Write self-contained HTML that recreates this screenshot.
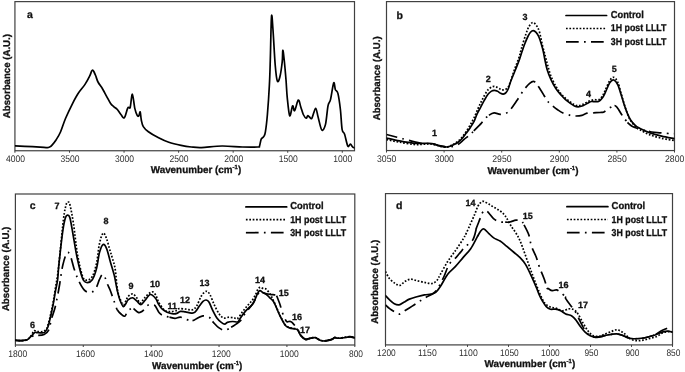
<!DOCTYPE html>
<html><head><meta charset="utf-8"><title>FTIR spectra</title>
<style>
html,body{margin:0;padding:0;background:#fff;width:685px;height:372px;overflow:hidden;}
svg{display:block;font-family:"Liberation Sans",sans-serif;will-change:transform;}
</style></head>
<body>
<svg width="685" height="372" viewBox="0 0 685 372" font-family="Liberation Sans, sans-serif" text-rendering="geometricPrecision">
<clipPath id="ca"><rect x="14.93" y="0.62" width="339.57" height="150.13"/></clipPath>
<rect x="14.93" y="1.62" width="339.57" height="149.13" fill="none" stroke="#404040" stroke-width="1.2"/>
<line x1="14.93" y1="150.75" x2="14.93" y2="152.75" stroke="#404040" stroke-width="1"/>
<text x="15.43" y="161.70" font-size="9.60" text-anchor="middle" textLength="19.00" lengthAdjust="spacingAndGlyphs" fill="#303030">4000</text>
<line x1="69.49" y1="150.75" x2="69.49" y2="152.75" stroke="#404040" stroke-width="1"/>
<text x="69.99" y="161.70" font-size="9.60" text-anchor="middle" textLength="19.00" lengthAdjust="spacingAndGlyphs" fill="#303030">3500</text>
<line x1="124.05" y1="150.75" x2="124.05" y2="152.75" stroke="#404040" stroke-width="1"/>
<text x="124.55" y="161.70" font-size="9.60" text-anchor="middle" textLength="19.00" lengthAdjust="spacingAndGlyphs" fill="#303030">3000</text>
<line x1="178.61" y1="150.75" x2="178.61" y2="152.75" stroke="#404040" stroke-width="1"/>
<text x="179.11" y="161.70" font-size="9.60" text-anchor="middle" textLength="19.00" lengthAdjust="spacingAndGlyphs" fill="#303030">2500</text>
<line x1="233.17" y1="150.75" x2="233.17" y2="152.75" stroke="#404040" stroke-width="1"/>
<text x="233.67" y="161.70" font-size="9.60" text-anchor="middle" textLength="19.00" lengthAdjust="spacingAndGlyphs" fill="#303030">2000</text>
<line x1="287.73" y1="150.75" x2="287.73" y2="152.75" stroke="#404040" stroke-width="1"/>
<text x="288.23" y="161.70" font-size="9.60" text-anchor="middle" textLength="19.00" lengthAdjust="spacingAndGlyphs" fill="#303030">1500</text>
<line x1="342.29" y1="150.75" x2="342.29" y2="152.75" stroke="#404040" stroke-width="1"/>
<text x="342.79" y="161.70" font-size="9.60" text-anchor="middle" textLength="19.00" lengthAdjust="spacingAndGlyphs" fill="#303030">1000</text>
<text x="150.70" y="172.80" font-size="10" font-weight="bold" fill="#111" stroke="#111" stroke-width="0.3" textLength="90.50" lengthAdjust="spacingAndGlyphs">Wavenumber (cm<tspan font-size="6" dy="-3.5">-1</tspan><tspan dy="3.5">)</tspan></text>
<text x="9.90" y="118.20" font-size="9.80" font-weight="bold" textLength="84.20" lengthAdjust="spacingAndGlyphs" transform="rotate(-90 9.90 118.20)" fill="#111" stroke="#111" stroke-width="0.3">Absorbance (A.U.)</text>
<text x="27.00" y="18.30" font-size="10.50" font-weight="bold" fill="#111" stroke="#111" stroke-width="0.3">a</text>
<path d="M15.10,145.80 C18.00,145.95 27.68,146.43 32.50,146.70 C37.32,146.97 41.52,147.25 44.00,147.40 C46.48,147.55 46.47,147.68 47.40,147.60 C48.33,147.52 48.87,147.27 49.60,146.90 C50.33,146.53 50.70,146.60 51.80,145.40 C52.90,144.20 54.75,141.93 56.20,139.70 C57.65,137.47 58.95,135.53 60.50,132.00 C62.05,128.47 63.52,123.20 65.50,118.50 C67.48,113.80 70.30,107.97 72.40,103.80 C74.50,99.63 76.00,96.73 78.10,93.50 C80.20,90.27 83.10,87.25 85.00,84.40 C86.90,81.55 88.40,78.60 89.50,76.40 C90.60,74.20 91.08,72.27 91.60,71.20 C92.12,70.13 92.23,69.95 92.60,70.00 C92.97,70.05 93.28,70.53 93.80,71.50 C94.32,72.47 95.00,74.05 95.70,75.80 C96.40,77.55 96.85,79.80 98.00,82.00 C99.15,84.20 101.17,86.62 102.60,89.00 C104.03,91.38 105.27,93.88 106.60,96.30 C107.93,98.72 109.38,101.75 110.60,103.50 C111.82,105.25 112.82,105.85 113.90,106.80 C114.98,107.75 115.90,107.87 117.10,109.20 C118.30,110.53 119.88,113.38 121.10,114.80 C122.32,116.22 123.32,118.77 124.40,117.70 C125.48,116.63 126.80,110.08 127.60,108.40 C128.40,106.72 128.75,107.83 129.20,107.60 C129.65,107.37 129.77,109.23 130.30,107.00 C130.83,104.77 131.65,93.97 132.40,94.20 C133.15,94.43 133.98,104.83 134.80,108.40 C135.62,111.97 136.62,114.40 137.30,115.60 C137.98,116.80 138.42,116.22 138.90,115.60 C139.38,114.98 139.80,111.17 140.20,111.90 C140.60,112.63 140.78,117.55 141.30,120.00 C141.82,122.45 142.12,124.65 143.30,126.60 C144.48,128.55 145.85,129.83 148.40,131.70 C150.95,133.57 155.20,136.03 158.60,137.80 C162.00,139.57 165.05,141.03 168.80,142.30 C172.55,143.57 177.35,144.62 181.10,145.40 C184.85,146.18 187.90,146.63 191.30,147.00 C194.70,147.37 196.38,147.77 201.50,147.60 C206.62,147.43 215.18,146.10 222.00,146.00 C228.82,145.90 236.45,146.83 242.40,147.00 C248.35,147.17 254.85,147.15 257.70,147.00 C260.55,146.85 258.92,147.40 259.50,146.10 C260.08,144.80 260.50,140.77 261.20,139.20 C261.90,137.63 263.00,137.93 263.70,136.70 C264.40,135.47 264.78,135.50 265.40,131.80 C266.02,128.10 266.73,122.33 267.40,114.50 C268.07,106.67 268.92,93.88 269.40,84.80 C269.88,75.72 269.95,71.38 270.30,60.00 C270.65,48.62 271.05,21.50 271.50,16.50 C271.95,11.50 272.38,21.92 273.00,30.00 C273.62,38.08 274.48,56.50 275.20,65.00 C275.92,73.50 276.53,78.95 277.30,81.00 C278.07,83.05 278.98,80.47 279.80,77.30 C280.62,74.13 281.70,66.48 282.20,62.00 C282.70,57.52 282.50,51.07 282.80,50.40 C283.10,49.73 283.47,53.10 284.00,58.00 C284.53,62.90 285.47,73.28 286.00,79.80 C286.53,86.32 286.58,91.12 287.20,97.10 C287.82,103.08 288.80,114.25 289.70,115.70 C290.60,117.15 291.78,106.63 292.60,105.80 C293.42,104.97 293.65,111.65 294.60,110.70 C295.55,109.75 297.27,100.72 298.30,100.10 C299.33,99.48 299.97,104.60 300.80,107.00 C301.63,109.40 302.40,112.63 303.30,114.50 C304.20,116.37 305.47,118.00 306.20,118.20 C306.93,118.40 307.15,115.90 307.70,115.70 C308.25,115.50 308.80,116.58 309.50,117.00 C310.20,117.42 310.88,119.65 311.90,118.20 C312.92,116.75 314.57,108.50 315.60,108.30 C316.63,108.10 317.07,113.38 318.10,117.00 C319.13,120.62 320.57,128.77 321.80,130.00 C323.03,131.23 324.47,128.43 325.50,124.40 C326.53,120.37 327.17,109.93 328.00,105.80 C328.83,101.67 329.55,103.40 330.50,99.60 C331.45,95.80 332.88,84.65 333.70,83.00 C334.52,81.35 334.70,87.97 335.40,89.70 C336.10,91.43 337.07,90.10 337.90,93.40 C338.73,96.70 339.70,103.52 340.40,109.50 C341.10,115.48 341.40,125.17 342.10,129.30 C342.80,133.43 343.65,131.50 344.60,134.30 C345.55,137.10 346.85,144.45 347.80,146.10 C348.75,147.75 349.47,144.03 350.30,144.20 C351.13,144.37 352.10,146.48 352.80,147.10 C353.50,147.72 354.22,147.77 354.50,147.90" stroke="#000" stroke-width="1.70" fill="none" stroke-linejoin="round" stroke-linecap="round" clip-path="url(#ca)"/>
<clipPath id="cb"><rect x="386.50" y="0.60" width="288.00" height="149.95"/></clipPath>
<rect x="386.50" y="1.60" width="288.00" height="148.95" fill="none" stroke="#404040" stroke-width="1.2"/>
<line x1="386.50" y1="150.55" x2="386.50" y2="152.55" stroke="#404040" stroke-width="1"/>
<text x="386.70" y="161.70" font-size="9.60" text-anchor="middle" textLength="19.30" lengthAdjust="spacingAndGlyphs" fill="#303030">3050</text>
<line x1="444.10" y1="150.55" x2="444.10" y2="152.55" stroke="#404040" stroke-width="1"/>
<text x="444.30" y="161.70" font-size="9.60" text-anchor="middle" textLength="19.30" lengthAdjust="spacingAndGlyphs" fill="#303030">3000</text>
<line x1="501.70" y1="150.55" x2="501.70" y2="152.55" stroke="#404040" stroke-width="1"/>
<text x="501.90" y="161.70" font-size="9.60" text-anchor="middle" textLength="19.30" lengthAdjust="spacingAndGlyphs" fill="#303030">2950</text>
<line x1="559.30" y1="150.55" x2="559.30" y2="152.55" stroke="#404040" stroke-width="1"/>
<text x="559.50" y="161.70" font-size="9.60" text-anchor="middle" textLength="19.30" lengthAdjust="spacingAndGlyphs" fill="#303030">2900</text>
<line x1="616.90" y1="150.55" x2="616.90" y2="152.55" stroke="#404040" stroke-width="1"/>
<text x="617.10" y="161.70" font-size="9.60" text-anchor="middle" textLength="19.30" lengthAdjust="spacingAndGlyphs" fill="#303030">2850</text>
<line x1="674.50" y1="150.55" x2="674.50" y2="152.55" stroke="#404040" stroke-width="1"/>
<text x="674.70" y="161.70" font-size="9.60" text-anchor="middle" textLength="19.30" lengthAdjust="spacingAndGlyphs" fill="#303030">2800</text>
<text x="487.50" y="173.90" font-size="10" font-weight="bold" fill="#111" stroke="#111" stroke-width="0.3" textLength="91.00" lengthAdjust="spacingAndGlyphs">Wavenumber (cm<tspan font-size="6" dy="-3.5">-1</tspan><tspan dy="3.5">)</tspan></text>
<text x="380.40" y="120.30" font-size="9.80" font-weight="bold" textLength="83.90" lengthAdjust="spacingAndGlyphs" transform="rotate(-90 380.40 120.30)" fill="#111" stroke="#111" stroke-width="0.3">Absorbance (A.U.)</text>
<text x="396.60" y="18.60" font-size="10.50" font-weight="bold" fill="#111" stroke="#111" stroke-width="0.3">b</text>
<line x1="566.00" y1="15.50" x2="606.60" y2="15.50" stroke="#000" stroke-width="1.70" fill="none" stroke-linejoin="round" stroke-linecap="round"/>
<text x="610.80" y="18.20" font-size="10.00" font-weight="bold" textLength="33.00" lengthAdjust="spacingAndGlyphs" fill="#111" stroke="#111" stroke-width="0.3">Control</text>
<line x1="566.00" y1="28.50" x2="606.60" y2="28.50" stroke="#000" stroke-width="1.70" fill="none" stroke-dasharray="1.7 1.7"/>
<text x="610.80" y="31.40" font-size="10.00" font-weight="bold" textLength="55.70" lengthAdjust="spacingAndGlyphs" fill="#111" stroke="#111" stroke-width="0.3">1H post LLLT</text>
<line x1="566.00" y1="41.90" x2="606.60" y2="41.90" stroke="#000" stroke-width="1.70" fill="none" stroke-dasharray="12.7 5.3 1.7 5.3"/>
<text x="610.80" y="44.60" font-size="10.00" font-weight="bold" textLength="55.70" lengthAdjust="spacingAndGlyphs" fill="#111" stroke="#111" stroke-width="0.3">3H post LLLT</text>
<path d="M386.50,139.60 C388.68,140.03 394.98,141.38 399.60,142.20 C404.22,143.02 410.30,144.15 414.20,144.50 C418.10,144.85 420.57,144.42 423.00,144.30 C425.43,144.18 426.87,143.75 428.80,143.80 C430.73,143.85 432.65,144.17 434.60,144.60 C436.55,145.03 438.52,145.98 440.50,146.40 C442.48,146.82 444.92,147.17 446.50,147.10 C448.08,147.03 448.75,146.52 450.00,146.00 C451.25,145.48 452.65,144.80 454.00,144.00 C455.35,143.20 456.75,142.33 458.10,141.20 C459.45,140.07 460.77,138.80 462.10,137.20 C463.43,135.60 464.75,133.63 466.10,131.60 C467.45,129.57 468.85,127.35 470.20,125.00 C471.55,122.65 472.93,120.17 474.20,117.50 C475.47,114.83 476.67,111.55 477.80,109.00 C478.93,106.45 479.90,104.45 481.00,102.20 C482.10,99.95 483.20,97.60 484.40,95.50 C485.60,93.40 486.78,91.08 488.20,89.60 C489.62,88.12 491.50,87.02 492.90,86.60 C494.30,86.18 495.42,86.70 496.60,87.10 C497.78,87.50 499.05,88.53 500.00,89.00 C500.95,89.47 501.47,89.82 502.30,89.90 C503.13,89.98 504.22,89.77 505.00,89.50 C505.78,89.23 506.28,89.08 507.00,88.30 C507.72,87.52 508.02,88.02 509.30,84.80 C510.58,81.58 513.08,73.55 514.70,69.00 C516.32,64.45 517.87,60.95 519.00,57.50 C520.13,54.05 520.37,52.15 521.50,48.30 C522.63,44.45 524.55,38.03 525.80,34.40 C527.05,30.77 527.85,28.48 529.00,26.50 C530.15,24.52 531.53,22.75 532.70,22.50 C533.87,22.25 534.92,23.57 536.00,25.00 C537.08,26.43 538.13,27.73 539.20,31.10 C540.27,34.47 541.35,40.88 542.40,45.20 C543.45,49.52 544.57,53.45 545.50,57.00 C546.43,60.55 547.07,63.25 548.00,66.50 C548.93,69.75 549.77,73.17 551.10,76.50 C552.43,79.83 554.12,83.37 556.00,86.50 C557.88,89.63 560.12,92.78 562.40,95.30 C564.68,97.82 567.70,100.05 569.70,101.60 C571.70,103.15 572.98,103.93 574.40,104.60 C575.82,105.27 576.78,105.63 578.20,105.60 C579.62,105.57 581.33,105.03 582.90,104.40 C584.47,103.77 585.88,102.57 587.60,101.80 C589.32,101.03 591.32,100.17 593.20,99.80 C595.08,99.43 597.38,100.18 598.90,99.60 C600.42,99.02 601.28,97.77 602.30,96.30 C603.32,94.83 603.77,93.42 605.00,90.80 C606.23,88.18 608.25,82.85 609.70,80.60 C611.15,78.35 612.37,77.07 613.70,77.30 C615.03,77.53 616.48,79.38 617.70,82.00 C618.92,84.62 619.92,89.33 621.00,93.00 C622.08,96.67 623.13,100.57 624.20,104.00 C625.27,107.43 626.33,110.83 627.40,113.60 C628.47,116.37 629.25,118.43 630.60,120.60 C631.95,122.77 633.93,125.07 635.50,126.60 C637.07,128.13 637.68,128.47 640.00,129.80 C642.32,131.13 645.78,133.18 649.40,134.60 C653.02,136.02 657.58,137.32 661.70,138.30 C665.82,139.28 672.03,140.13 674.10,140.50" stroke="#000" stroke-width="1.70" fill="none" stroke-dasharray="1.7 1.7" clip-path="url(#cb)"/>
<path d="M386.50,134.50 C389.17,135.20 396.92,137.27 402.50,138.70 C408.08,140.13 415.42,142.25 420.00,143.10 C424.58,143.95 426.58,143.35 430.00,143.80 C433.42,144.25 437.78,145.27 440.50,145.80 C443.22,146.33 444.38,146.87 446.30,147.00 C448.22,147.13 450.05,147.02 452.00,146.60 C453.95,146.18 455.98,145.70 458.00,144.50 C460.02,143.30 462.13,141.00 464.10,139.40 C466.07,137.80 468.18,136.32 469.80,134.90 C471.42,133.48 472.43,132.28 473.80,130.90" stroke="#000" stroke-width="1.70" fill="none" stroke-dasharray="12.7 5.3 1.7 5.3" clip-path="url(#cb)" stroke-dashoffset="1.70"/>
<path d="M473.80,130.90 C475.17,129.52 476.77,127.85 478.00,126.60 C479.23,125.35 480.12,124.63 481.20,123.40 C482.28,122.17 483.22,120.55 484.50,119.20 C485.78,117.85 487.30,116.35 488.90,115.30" stroke="#000" stroke-width="1.70" fill="none" stroke-dasharray="12.7 5.3 1.7 5.3" clip-path="url(#cb)"/>
<path d="M488.90,115.30 C490.50,114.25 492.22,113.07 494.10,112.90 C495.98,112.73 498.25,114.23 500.20,114.30 C502.15,114.37 504.12,114.07 505.80,113.30 C507.48,112.53 508.48,111.78 510.30,109.70 C512.12,107.62 514.45,104.08 516.70,100.80 C518.95,97.52 521.63,92.92 523.80,90.00 C525.97,87.08 528.00,84.72 529.70,83.30 C531.40,81.88 532.58,81.00 534.00,81.50 C535.42,82.00 536.55,84.02 538.20,86.30" stroke="#000" stroke-width="1.70" fill="none" stroke-dasharray="12.7 5.3 1.7 5.3" clip-path="url(#cb)"/>
<path d="M538.20,86.30 C539.85,88.58 542.50,92.92 543.90,95.20 C545.30,97.48 545.53,98.53 546.60,100.00 C547.67,101.47 548.47,102.38 550.30,104.00 C552.13,105.62 555.48,108.20 557.60,109.70 C559.72,111.20 560.83,112.05 563.00,113.00 C565.17,113.95 568.43,114.90 570.60,115.40 C572.77,115.90 574.12,116.00 576.00,116.00 C577.88,116.00 580.05,115.87 581.90,115.40 C583.75,114.93 585.22,113.63 587.10,113.20 C588.98,112.77 591.05,112.92 593.20,112.80" stroke="#000" stroke-width="1.70" fill="none" stroke-dasharray="12.7 5.3 1.7 5.3" clip-path="url(#cb)"/>
<path d="M593.20,112.80 C595.35,112.68 598.20,112.65 600.00,112.50 C601.80,112.35 602.38,112.67 604.00,111.90 C605.62,111.13 607.95,108.97 609.70,107.90 C611.45,106.83 613.20,105.48 614.50,105.50" stroke="#000" stroke-width="1.70" fill="none" stroke-dasharray="12.7 5.3 1.7 5.3" clip-path="url(#cb)"/>
<path d="M614.50,105.50 C615.80,105.52 616.42,106.67 617.50,108.00 C618.58,109.33 619.88,111.77 621.00,113.50 C622.12,115.23 623.10,116.92 624.20,118.40 C625.30,119.88 626.93,121.60 627.60,122.40" stroke="#000" stroke-width="1.70" fill="none" stroke-dasharray="12.7 5.3 1.7 5.3" clip-path="url(#cb)"/>
<path d="M627.60,122.40 C628.27,123.20 627.47,122.55 628.20,123.20 C628.93,123.85 630.52,125.45 632.00,126.30 C633.48,127.15 634.28,127.45 637.10,128.30 C639.92,129.15 646.45,130.78 648.90,131.40" stroke="#000" stroke-width="1.70" fill="none" stroke-dasharray="12.7 5.3 1.7 5.3" clip-path="url(#cb)"/>
<path d="M648.90,131.40 C651.35,132.02 648.83,131.67 651.80,132.00 C654.77,132.33 662.98,133.13 666.70,133.40 C670.42,133.67 672.87,133.57 674.10,133.60" stroke="#000" stroke-width="1.70" fill="none" stroke-dasharray="12.7 5.3 1.7 5.3" clip-path="url(#cb)"/>
<path d="M386.50,138.00 C388.68,138.48 394.98,140.02 399.60,140.90 C404.22,141.78 410.30,142.90 414.20,143.30 C418.10,143.70 420.57,143.30 423.00,143.30 C425.43,143.30 426.87,143.15 428.80,143.30 C430.73,143.45 432.65,143.72 434.60,144.20 C436.55,144.68 438.52,145.73 440.50,146.20 C442.48,146.67 444.92,147.00 446.50,147.00 C448.08,147.00 448.75,146.60 450.00,146.20 C451.25,145.80 452.65,145.27 454.00,144.60 C455.35,143.93 456.75,143.22 458.10,142.20 C459.45,141.18 460.77,139.98 462.10,138.50 C463.43,137.02 464.75,135.10 466.10,133.30 C467.45,131.50 468.85,129.72 470.20,127.70 C471.55,125.68 473.08,123.43 474.20,121.20 C475.32,118.97 475.83,116.62 476.90,114.30 C477.97,111.98 479.35,109.65 480.60,107.30 C481.85,104.95 483.13,102.40 484.40,100.20 C485.67,98.00 487.02,95.62 488.20,94.10 C489.38,92.58 490.48,91.73 491.50,91.10 C492.52,90.47 493.28,90.27 494.30,90.30 C495.32,90.33 496.58,90.82 497.60,91.30 C498.62,91.78 499.47,92.73 500.40,93.20 C501.33,93.67 502.27,94.18 503.20,94.10 C504.13,94.02 505.13,93.63 506.00,92.70 C506.87,91.77 507.67,90.23 508.40,88.50 C509.13,86.77 509.35,85.13 510.40,82.30 C511.45,79.47 513.27,75.08 514.70,71.50 C516.13,67.92 517.78,64.12 519.00,60.80 C520.22,57.48 521.05,54.40 522.00,51.60 C522.95,48.80 523.72,46.52 524.70,44.00 C525.68,41.48 526.93,38.47 527.90,36.50 C528.87,34.53 529.60,33.18 530.50,32.20 C531.40,31.22 532.37,30.57 533.30,30.60 C534.23,30.63 535.20,31.42 536.10,32.40 C537.00,33.38 537.83,34.57 538.70,36.50 C539.57,38.43 540.53,41.50 541.30,44.00 C542.07,46.50 542.70,48.88 543.30,51.50 C543.90,54.12 544.27,56.72 544.90,59.70 C545.53,62.68 546.07,66.05 547.10,69.40 C548.13,72.75 549.62,76.58 551.10,79.80 C552.58,83.02 554.27,86.08 556.00,88.70 C557.73,91.32 559.92,93.68 561.50,95.50 C563.08,97.32 564.13,98.37 565.50,99.60 C566.87,100.83 568.22,101.85 569.70,102.90 C571.18,103.95 572.98,105.25 574.40,105.90 C575.82,106.55 576.78,106.83 578.20,106.80 C579.62,106.77 581.33,106.28 582.90,105.70 C584.47,105.12 586.20,104.00 587.60,103.30 C589.00,102.60 590.05,101.77 591.30,101.50 C592.55,101.23 593.83,101.73 595.10,101.70 C596.37,101.67 597.70,101.92 598.90,101.30 C600.10,100.68 601.28,99.35 602.30,98.00 C603.32,96.65 603.77,95.72 605.00,93.20 C606.23,90.68 608.25,85.10 609.70,82.90 C611.15,80.70 612.37,79.73 613.70,80.00 C615.03,80.27 616.48,82.13 617.70,84.50 C618.92,86.87 619.92,90.83 621.00,94.20 C622.08,97.57 623.13,101.48 624.20,104.70 C625.27,107.92 626.33,110.95 627.40,113.50 C628.47,116.05 629.25,117.98 630.60,120.00 C631.95,122.02 633.93,124.20 635.50,125.60 C637.07,127.00 637.68,127.23 640.00,128.40 C642.32,129.57 645.78,131.32 649.40,132.60 C653.02,133.88 657.58,135.10 661.70,136.10 C665.82,137.10 672.03,138.18 674.10,138.60" stroke="#000" stroke-width="1.70" fill="none" stroke-linejoin="round" stroke-linecap="round" clip-path="url(#cb)"/>
<text x="432.00" y="135.60" font-size="9.00" font-weight="bold" fill="#111" stroke="#111" stroke-width="0.3">1</text>
<text x="485.80" y="81.80" font-size="9.00" font-weight="bold" fill="#111" stroke="#111" stroke-width="0.3">2</text>
<text x="522.60" y="19.50" font-size="9.00" font-weight="bold" fill="#111" stroke="#111" stroke-width="0.3">3</text>
<text x="585.90" y="96.50" font-size="9.00" font-weight="bold" fill="#111" stroke="#111" stroke-width="0.3">4</text>
<text x="611.80" y="71.80" font-size="9.00" font-weight="bold" fill="#111" stroke="#111" stroke-width="0.3">5</text>
<clipPath id="cc"><rect x="15.40" y="193.00" width="339.40" height="152.00"/></clipPath>
<rect x="15.40" y="194.00" width="339.40" height="151.00" fill="none" stroke="#404040" stroke-width="1.2"/>
<line x1="15.40" y1="345.00" x2="15.40" y2="347.00" stroke="#404040" stroke-width="1"/>
<text x="17.70" y="356.60" font-size="9.60" text-anchor="middle" textLength="19.00" lengthAdjust="spacingAndGlyphs" fill="#303030">1800</text>
<line x1="83.28" y1="345.00" x2="83.28" y2="347.00" stroke="#404040" stroke-width="1"/>
<text x="85.58" y="356.60" font-size="9.60" text-anchor="middle" textLength="19.00" lengthAdjust="spacingAndGlyphs" fill="#303030">1600</text>
<line x1="151.16" y1="345.00" x2="151.16" y2="347.00" stroke="#404040" stroke-width="1"/>
<text x="153.46" y="356.60" font-size="9.60" text-anchor="middle" textLength="19.00" lengthAdjust="spacingAndGlyphs" fill="#303030">1400</text>
<line x1="219.04" y1="345.00" x2="219.04" y2="347.00" stroke="#404040" stroke-width="1"/>
<text x="221.34" y="356.60" font-size="9.60" text-anchor="middle" textLength="19.00" lengthAdjust="spacingAndGlyphs" fill="#303030">1200</text>
<line x1="286.92" y1="345.00" x2="286.92" y2="347.00" stroke="#404040" stroke-width="1"/>
<text x="289.22" y="356.60" font-size="9.60" text-anchor="middle" textLength="19.00" lengthAdjust="spacingAndGlyphs" fill="#303030">1000</text>
<line x1="354.80" y1="345.00" x2="354.80" y2="347.00" stroke="#404040" stroke-width="1"/>
<text x="356.00" y="356.60" font-size="9.60" text-anchor="middle" textLength="14.00" lengthAdjust="spacingAndGlyphs" fill="#303030">800</text>
<text x="152.00" y="368.70" font-size="10" font-weight="bold" fill="#111" stroke="#111" stroke-width="0.3" textLength="90.30" lengthAdjust="spacingAndGlyphs">Wavenumber (cm<tspan font-size="6" dy="-3.5">-1</tspan><tspan dy="3.5">)</tspan></text>
<text x="9.20" y="311.10" font-size="9.80" font-weight="bold" textLength="84.40" lengthAdjust="spacingAndGlyphs" transform="rotate(-90 9.20 311.10)" fill="#111" stroke="#111" stroke-width="0.3">Absorbance (A.U.)</text>
<text x="29.80" y="208.90" font-size="10.50" font-weight="bold" fill="#111" stroke="#111" stroke-width="0.3">c</text>
<line x1="245.90" y1="206.90" x2="286.70" y2="206.90" stroke="#000" stroke-width="1.70" fill="none" stroke-linejoin="round" stroke-linecap="round"/>
<text x="290.20" y="209.30" font-size="10.00" font-weight="bold" textLength="33.30" lengthAdjust="spacingAndGlyphs" fill="#111" stroke="#111" stroke-width="0.3">Control</text>
<line x1="245.90" y1="219.70" x2="286.70" y2="219.70" stroke="#000" stroke-width="1.70" fill="none" stroke-dasharray="1.7 1.7"/>
<text x="290.20" y="222.50" font-size="10.00" font-weight="bold" textLength="56.00" lengthAdjust="spacingAndGlyphs" fill="#111" stroke="#111" stroke-width="0.3">1H post LLLT</text>
<line x1="245.90" y1="232.70" x2="286.70" y2="232.70" stroke="#000" stroke-width="1.70" fill="none" stroke-dasharray="12.7 5.3 1.7 5.3"/>
<text x="290.20" y="235.60" font-size="10.00" font-weight="bold" textLength="56.00" lengthAdjust="spacingAndGlyphs" fill="#111" stroke="#111" stroke-width="0.3">3H post LLLT</text>
<path d="M14.90,340.20 C16.00,340.27 19.45,340.67 21.50,340.60 C23.55,340.53 25.63,340.57 27.20,339.80 C28.77,339.03 29.75,337.50 30.90,336.00 C32.05,334.50 33.07,331.55 34.10,330.80 C35.13,330.05 35.60,331.38 37.10,331.50 C38.60,331.62 41.48,332.02 43.10,331.50 C44.72,330.98 46.00,329.48 46.80,328.40 C47.60,327.32 47.42,326.67 47.90,325.00 C48.38,323.33 49.08,320.90 49.70,318.40 C50.32,315.90 50.97,313.03 51.60,310.00 C52.23,306.97 52.87,303.82 53.50,300.20 C54.13,296.58 54.72,292.50 55.40,288.30 C56.08,284.10 56.92,280.05 57.60,275.00 C58.28,269.95 58.52,267.33 59.50,258.00 C60.48,248.67 62.38,227.92 63.50,219.00 C64.62,210.08 65.43,207.33 66.20,204.50 C66.97,201.67 67.47,201.92 68.10,202.00 C68.73,202.08 69.10,201.33 70.00,205.00 C70.90,208.67 72.25,215.75 73.50,224.00 C74.75,232.25 76.00,245.83 77.50,254.50 C79.00,263.17 80.97,271.72 82.50,276.00 C84.03,280.28 85.07,280.12 86.70,280.20 C88.33,280.28 90.65,279.37 92.30,276.50 C93.95,273.63 95.42,268.42 96.60,263.00 C97.78,257.58 98.32,248.98 99.40,244.00 C100.48,239.02 101.92,234.02 103.10,233.10 C104.28,232.18 105.43,235.88 106.50,238.50 C107.57,241.12 108.53,245.55 109.50,248.80 C110.47,252.05 111.37,254.70 112.30,258.00 C113.23,261.30 114.25,263.35 115.10,268.60 C115.95,273.85 116.57,284.43 117.40,289.50 C118.23,294.57 119.10,296.42 120.10,299.00 C121.10,301.58 122.40,304.75 123.40,305.00 C124.40,305.25 125.32,301.92 126.10,300.50 C126.88,299.08 126.98,297.62 128.10,296.50 C129.22,295.38 131.33,293.55 132.80,293.80 C134.27,294.05 135.67,296.43 136.90,298.00 C138.13,299.57 138.87,303.28 140.20,303.20 C141.53,303.12 142.98,299.40 144.90,297.50 C146.82,295.60 149.90,292.22 151.70,291.80 C153.50,291.38 154.55,293.30 155.70,295.00 C156.85,296.70 157.10,299.43 158.60,302.00 C160.10,304.57 162.68,308.80 164.70,310.40 C166.72,312.00 168.68,311.60 170.70,311.60 C172.72,311.60 175.38,310.90 176.80,310.40 C178.22,309.90 177.58,308.80 179.20,308.60 C180.82,308.40 184.28,309.00 186.50,309.20 C188.72,309.40 190.78,310.37 192.50,309.80 C194.22,309.23 195.35,308.07 196.80,305.80 C198.25,303.53 199.65,298.62 201.20,296.20 C202.75,293.78 204.65,291.58 206.10,291.30 C207.55,291.02 208.53,292.23 209.90,294.50 C211.27,296.77 212.70,301.57 214.30,304.90 C215.90,308.23 217.90,312.32 219.50,314.50 C221.10,316.68 222.30,317.55 223.90,318.00 C225.50,318.45 227.35,317.20 229.10,317.20 C230.85,317.20 232.98,317.78 234.40,318.00 C235.82,318.22 236.28,319.48 237.60,318.50 C238.92,317.52 240.72,314.18 242.30,312.10 C243.88,310.02 245.48,307.92 247.10,306.00 C248.72,304.08 250.58,302.52 252.00,300.60 C253.42,298.68 254.60,296.42 255.60,294.50 C256.60,292.58 257.20,290.30 258.00,289.10 C258.80,287.90 259.53,287.40 260.40,287.30 C261.27,287.20 262.23,288.18 263.20,288.50 C264.17,288.82 265.02,288.23 266.20,289.20 C267.38,290.17 269.12,292.45 270.30,294.30 C271.48,296.15 272.30,298.18 273.30,300.30 C274.30,302.42 275.30,304.72 276.30,307.00 C277.30,309.28 278.28,311.83 279.30,314.00 C280.32,316.17 281.38,318.17 282.40,320.00 C283.42,321.83 284.23,323.75 285.40,325.00 C286.57,326.25 287.92,326.92 289.40,327.50 C290.88,328.08 293.03,328.22 294.30,328.50 C295.57,328.78 296.28,328.73 297.00,329.20 C297.72,329.67 298.07,330.42 298.60,331.30 C299.13,332.18 299.57,333.52 300.20,334.50 C300.83,335.48 301.50,336.38 302.40,337.20 C303.30,338.02 304.53,339.17 305.60,339.40 C306.67,339.63 307.73,338.87 308.80,338.60 C309.87,338.33 310.92,337.98 312.00,337.80 C313.08,337.62 314.30,337.30 315.30,337.50 C316.30,337.70 317.02,338.52 318.00,339.00 C318.98,339.48 320.13,340.10 321.20,340.40 C322.27,340.70 323.15,340.83 324.40,340.80 C325.65,340.77 327.35,340.50 328.70,340.20 C330.05,339.90 331.52,339.45 332.50,339.00 C333.48,338.55 333.80,337.67 334.60,337.50 C335.40,337.33 336.32,337.92 337.30,338.00 C338.28,338.08 339.07,338.13 340.50,338.00 C341.93,337.87 344.28,337.42 345.90,337.20 C347.52,336.98 348.75,336.65 350.20,336.70 C351.65,336.75 353.87,337.37 354.60,337.50" stroke="#000" stroke-width="1.70" fill="none" stroke-dasharray="1.7 1.7" clip-path="url(#cc)"/>
<path d="M14.90,340.20 C16.00,340.27 19.45,340.67 21.50,340.60 C23.55,340.53 25.53,340.40 27.20,339.80 C28.87,339.20 30.28,337.80 31.50,337.00 C32.72,336.20 33.50,335.25 34.50,335.00 C35.50,334.75 35.90,335.58 37.50,335.50 C39.10,335.42 42.22,335.45 44.10,334.50 C45.98,333.55 47.60,332.30 48.80,329.80 C50.00,327.30 50.30,323.05 51.30,319.50 C52.30,315.95 53.75,312.50 54.80,308.50 C55.85,304.50 56.78,299.58 57.60,295.50 C58.42,291.42 58.85,288.98 59.70,284.00 C60.55,279.02 61.50,270.78 62.70,265.60 C63.90,260.42 65.63,254.55 66.90,252.90 C68.17,251.25 69.12,253.12 70.30,255.70 C71.48,258.28 72.68,264.40 74.00,268.40 C75.32,272.40 76.55,276.17 78.20,279.70 C79.85,283.23 82.02,287.48 83.90,289.60 C85.78,291.72 87.62,292.40 89.50,292.40 C91.38,292.40 93.55,291.72 95.20,289.60 C96.85,287.48 98.23,282.20 99.40,279.70 C100.57,277.20 101.30,275.05 102.20,274.60 C103.10,274.15 103.90,275.35 104.80,277.00 C105.70,278.65 106.73,282.37 107.60,284.50 C108.47,286.63 109.03,287.35 110.00,289.80 C110.97,292.25 112.50,296.63 113.40,299.20 C114.30,301.77 114.73,303.40 115.40,305.20 C116.07,307.00 116.47,308.53 117.40,310.00" stroke="#000" stroke-width="1.70" fill="none" stroke-dasharray="12.7 5.3 1.7 5.3" clip-path="url(#cc)"/>
<path d="M117.40,310.00 C118.33,311.47 119.77,312.97 121.00,314.00 C122.23,315.03 123.72,316.65 124.80,316.20 C125.88,315.75 126.55,312.50 127.50,311.30 C128.45,310.10 129.50,309.45 130.50,309.00 C131.50,308.55 132.22,308.03 133.50,308.60" stroke="#000" stroke-width="1.70" fill="none" stroke-dasharray="12.7 5.3 1.7 5.3" clip-path="url(#cc)"/>
<path d="M133.50,308.60 C134.78,309.17 136.73,311.95 138.20,312.40 C139.67,312.85 140.95,312.27 142.30,311.30 C143.65,310.33 145.27,307.65 146.30,306.60 C147.33,305.55 147.60,305.23 148.50,305.00 C149.40,304.77 150.62,305.10 151.70,305.20 C152.78,305.30 153.75,304.33 155.00,305.60 C156.25,306.87 157.68,311.08 159.20,312.80 C160.72,314.52 162.38,315.18 164.10,315.90 C165.82,316.62 167.68,316.70 169.50,317.10" stroke="#000" stroke-width="1.70" fill="none" stroke-dasharray="12.7 5.3 1.7 5.3" clip-path="url(#cc)"/>
<path d="M169.50,317.10 C171.32,317.50 173.18,318.30 175.00,318.30 C176.82,318.30 178.48,316.90 180.40,317.10 C182.32,317.30 184.48,318.90 186.50,319.50 C188.52,320.10 190.63,320.95 192.50,320.70" stroke="#000" stroke-width="1.70" fill="none" stroke-dasharray="12.7 5.3 1.7 5.3" clip-path="url(#cc)"/>
<path d="M192.50,320.70 C194.37,320.45 195.95,318.82 197.70,318.00 C199.45,317.18 201.10,315.93 203.00,315.80 C204.90,315.67 207.50,316.27 209.10,317.20 C210.70,318.13 211.88,320.53 212.60,321.40" stroke="#000" stroke-width="1.70" fill="none" stroke-dasharray="12.7 5.3 1.7 5.3" clip-path="url(#cc)"/>
<path d="M212.60,321.40 C213.32,322.27 212.38,321.37 213.40,322.40 C214.42,323.43 216.80,326.28 218.70,327.60 C220.60,328.92 222.73,330.35 224.80,330.30 C226.87,330.25 229.22,328.33 231.10,327.30" stroke="#000" stroke-width="1.70" fill="none" stroke-dasharray="12.7 5.3 1.7 5.3" clip-path="url(#cc)"/>
<path d="M231.10,327.30 C232.98,326.27 234.53,325.20 236.10,324.10 C237.67,323.00 239.03,322.43 240.50,320.70 C241.97,318.97 243.00,316.33 244.90,313.70 C246.80,311.07 250.05,307.52 251.90,304.90 C253.75,302.28 254.68,300.23 256.00,298.00 C257.32,295.77 258.58,292.37 259.80,291.50 C261.02,290.63 261.97,292.38 263.30,292.80 C264.63,293.22 266.43,293.70 267.80,294.00 C269.17,294.30 270.38,294.45 271.50,294.60 C272.62,294.75 273.67,294.70 274.50,294.90 C275.33,295.10 275.83,294.87 276.50,295.80" stroke="#000" stroke-width="1.70" fill="none" stroke-dasharray="12.7 5.3 1.7 5.3" clip-path="url(#cc)"/>
<path d="M276.50,295.80 C277.17,296.73 277.87,298.90 278.50,300.50 C279.13,302.10 279.73,303.60 280.30,305.40 C280.87,307.20 281.28,309.42 281.90,311.30 C282.52,313.18 283.35,315.18 284.00,316.70 C284.65,318.22 285.25,319.55 285.80,320.40 C286.35,321.25 286.60,321.65 287.30,321.80 C288.00,321.95 289.22,321.22 290.00,321.30 C290.78,321.38 291.08,321.43 292.00,322.30 C292.92,323.17 294.40,325.05 295.50,326.50 C296.60,327.95 297.82,329.70 298.60,331.00 C299.38,332.30 299.57,333.30 300.20,334.30 C300.83,335.30 301.50,336.18 302.40,337.00 C303.30,337.82 304.53,338.95 305.60,339.20 C306.67,339.45 307.73,338.73 308.80,338.50 C309.87,338.27 310.92,337.97 312.00,337.80 C313.08,337.63 314.30,337.30 315.30,337.50 C316.30,337.70 317.02,338.52 318.00,339.00 C318.98,339.48 320.13,340.10 321.20,340.40 C322.27,340.70 323.15,340.83 324.40,340.80 C325.65,340.77 327.35,340.50 328.70,340.20 C330.05,339.90 331.52,339.45 332.50,339.00 C333.48,338.55 333.80,337.67 334.60,337.50 C335.40,337.33 336.32,337.92 337.30,338.00 C338.28,338.08 339.07,338.13 340.50,338.00 C341.93,337.87 344.28,337.42 345.90,337.20 C347.52,336.98 348.75,336.65 350.20,336.70 C351.65,336.75 353.87,337.37 354.60,337.50" stroke="#000" stroke-width="1.70" fill="none" stroke-dasharray="12.7 5.3 1.7 5.3" clip-path="url(#cc)"/>
<path d="M14.90,340.20 C16.00,340.27 19.45,340.67 21.50,340.60 C23.55,340.53 25.82,340.32 27.20,339.80 C28.58,339.28 28.95,338.28 29.80,337.50 C30.65,336.72 31.48,335.95 32.30,335.10 C33.12,334.25 33.90,332.82 34.70,332.40 C35.50,331.98 35.90,332.52 37.10,332.60 C38.30,332.68 40.58,333.00 41.90,332.90 C43.22,332.80 44.00,332.98 45.00,332.00 C46.00,331.02 47.12,328.93 47.90,327.00 C48.68,325.07 49.08,322.90 49.70,320.40 C50.32,317.90 50.97,314.97 51.60,312.00 C52.23,309.03 52.87,306.05 53.50,302.60 C54.13,299.15 54.72,295.07 55.40,291.30 C56.08,287.53 57.03,284.28 57.60,280.00 C58.17,275.72 57.95,273.65 58.80,265.60 C59.65,257.55 61.58,239.70 62.70,231.70 C63.82,223.70 64.63,220.35 65.50,217.60 C66.37,214.85 67.13,215.05 67.90,215.20 C68.67,215.35 69.22,215.12 70.10,218.50 C70.98,221.88 72.00,228.83 73.20,235.50 C74.40,242.17 75.75,251.37 77.30,258.50 C78.85,265.63 80.93,274.30 82.50,278.30 C84.07,282.30 85.07,282.27 86.70,282.50 C88.33,282.73 90.65,282.05 92.30,279.70 C93.95,277.35 95.42,272.87 96.60,268.40 C97.78,263.93 98.32,256.90 99.40,252.90 C100.48,248.90 101.88,245.08 103.10,244.40 C104.32,243.72 105.48,245.87 106.70,248.80 C107.92,251.73 109.15,257.62 110.40,262.00 C111.65,266.38 113.30,271.60 114.20,275.10 C115.10,278.60 115.27,280.33 115.80,283.00 C116.33,285.67 116.68,288.18 117.40,291.10 C118.12,294.02 119.10,297.92 120.10,300.50 C121.10,303.08 122.40,306.15 123.40,306.60 C124.40,307.05 125.32,304.32 126.10,303.20 C126.88,302.08 126.98,300.80 128.10,299.90 C129.22,299.00 131.33,297.58 132.80,297.80 C134.27,298.02 135.55,300.07 136.90,301.20 C138.25,302.33 139.57,304.72 140.90,304.60 C142.23,304.48 143.33,302.18 144.90,300.50 C146.47,298.82 148.50,294.83 150.30,294.50 C152.10,294.17 154.32,296.85 155.70,298.50 C157.08,300.15 157.50,302.62 158.60,304.40 C159.70,306.18 160.88,307.90 162.30,309.20 C163.72,310.50 165.28,311.43 167.10,312.20 C168.92,312.97 171.58,313.60 173.20,313.80 C174.82,314.00 175.60,313.80 176.80,313.40 C178.00,313.00 178.98,311.65 180.40,311.40 C181.82,311.15 183.48,311.62 185.30,311.90 C187.12,312.18 189.68,313.05 191.30,313.10 C192.92,313.15 193.63,313.42 195.00,312.20 C196.37,310.98 198.17,307.60 199.50,305.80 C200.83,304.00 201.90,302.37 203.00,301.40 C204.10,300.43 205.08,299.85 206.10,300.00 C207.12,300.15 208.02,300.60 209.10,302.30 C210.18,304.00 211.30,307.58 212.60,310.20 C213.90,312.82 215.45,315.97 216.90,318.00 C218.35,320.03 219.98,321.38 221.30,322.40 C222.62,323.42 223.78,324.10 224.80,324.10 C225.82,324.10 226.10,322.83 227.40,322.40 C228.70,321.97 230.85,321.58 232.60,321.50 C234.35,321.42 236.70,322.33 237.90,321.90 C239.10,321.47 238.67,320.53 239.80,318.90 C240.93,317.27 243.08,314.05 244.70,312.10 C246.32,310.15 248.08,308.62 249.50,307.20 C250.92,305.78 252.18,305.10 253.20,303.60 C254.22,302.10 254.90,299.82 255.60,298.20 C256.30,296.58 256.70,295.17 257.40,293.90 C258.10,292.63 258.83,290.78 259.80,290.60 C260.77,290.42 262.13,292.18 263.20,292.80 C264.27,293.42 265.18,293.55 266.20,294.30 C267.22,295.05 268.12,296.13 269.30,297.30 C270.48,298.47 272.13,299.62 273.30,301.30 C274.47,302.98 275.30,305.22 276.30,307.40 C277.30,309.58 278.28,312.22 279.30,314.40 C280.32,316.58 281.38,318.65 282.40,320.50 C283.42,322.35 284.23,324.27 285.40,325.50 C286.57,326.73 287.92,327.35 289.40,327.90 C290.88,328.45 293.03,328.55 294.30,328.80 C295.57,329.05 296.28,328.95 297.00,329.40 C297.72,329.85 298.07,330.62 298.60,331.50 C299.13,332.38 299.57,333.72 300.20,334.70 C300.83,335.68 301.50,336.58 302.40,337.40 C303.30,338.22 304.53,339.37 305.60,339.60 C306.67,339.83 307.73,339.07 308.80,338.80 C309.87,338.53 310.92,338.18 312.00,338.00 C313.08,337.82 314.30,337.50 315.30,337.70 C316.30,337.90 317.02,338.72 318.00,339.20 C318.98,339.68 320.13,340.30 321.20,340.60 C322.27,340.90 323.15,341.03 324.40,341.00 C325.65,340.97 327.35,340.70 328.70,340.40 C330.05,340.10 331.52,339.65 332.50,339.20 C333.48,338.75 333.80,337.87 334.60,337.70 C335.40,337.53 336.32,338.12 337.30,338.20 C338.28,338.28 339.07,338.33 340.50,338.20 C341.93,338.07 344.28,337.62 345.90,337.40 C347.52,337.18 348.95,336.85 350.20,336.90 C351.45,336.95 352.67,337.52 353.40,337.70 C354.13,337.88 354.40,337.95 354.60,338.00" stroke="#000" stroke-width="1.70" fill="none" stroke-linejoin="round" stroke-linecap="round" clip-path="url(#cc)"/>
<text x="30.00" y="327.90" font-size="9.00" font-weight="bold" fill="#111" stroke="#111" stroke-width="0.3">6</text>
<text x="54.60" y="209.00" font-size="9.00" font-weight="bold" fill="#111" stroke="#111" stroke-width="0.3">7</text>
<text x="103.60" y="224.40" font-size="9.00" font-weight="bold" fill="#111" stroke="#111" stroke-width="0.3">8</text>
<text x="128.50" y="289.30" font-size="9.00" font-weight="bold" fill="#111" stroke="#111" stroke-width="0.3">9</text>
<text x="150.00" y="286.60" font-size="9.00" font-weight="bold" fill="#111" stroke="#111" stroke-width="0.3">10</text>
<text x="167.50" y="308.80" font-size="9.00" font-weight="bold" fill="#111" stroke="#111" stroke-width="0.3">11</text>
<text x="179.90" y="303.00" font-size="9.00" font-weight="bold" fill="#111" stroke="#111" stroke-width="0.3">12</text>
<text x="199.50" y="285.90" font-size="9.00" font-weight="bold" fill="#111" stroke="#111" stroke-width="0.3">13</text>
<text x="255.10" y="283.00" font-size="9.00" font-weight="bold" fill="#111" stroke="#111" stroke-width="0.3">14</text>
<text x="278.70" y="296.10" font-size="9.00" font-weight="bold" fill="#111" stroke="#111" stroke-width="0.3">15</text>
<text x="292.00" y="320.30" font-size="9.00" font-weight="bold" fill="#111" stroke="#111" stroke-width="0.3">16</text>
<text x="300.10" y="332.80" font-size="9.00" font-weight="bold" fill="#111" stroke="#111" stroke-width="0.3">17</text>
<clipPath id="cd"><rect x="385.50" y="192.60" width="287.00" height="152.30"/></clipPath>
<rect x="385.50" y="193.60" width="287.00" height="151.30" fill="none" stroke="#404040" stroke-width="1.2"/>
<line x1="385.50" y1="344.90" x2="385.50" y2="346.90" stroke="#404040" stroke-width="1"/>
<text x="386.40" y="355.80" font-size="9.60" text-anchor="middle" textLength="18.60" lengthAdjust="spacingAndGlyphs" fill="#303030">1200</text>
<line x1="426.50" y1="344.90" x2="426.50" y2="346.90" stroke="#404040" stroke-width="1"/>
<text x="427.40" y="355.80" font-size="9.60" text-anchor="middle" textLength="18.60" lengthAdjust="spacingAndGlyphs" fill="#303030">1150</text>
<line x1="467.50" y1="344.90" x2="467.50" y2="346.90" stroke="#404040" stroke-width="1"/>
<text x="468.40" y="355.80" font-size="9.60" text-anchor="middle" textLength="18.60" lengthAdjust="spacingAndGlyphs" fill="#303030">1100</text>
<line x1="508.50" y1="344.90" x2="508.50" y2="346.90" stroke="#404040" stroke-width="1"/>
<text x="509.40" y="355.80" font-size="9.60" text-anchor="middle" textLength="18.60" lengthAdjust="spacingAndGlyphs" fill="#303030">1050</text>
<line x1="549.50" y1="344.90" x2="549.50" y2="346.90" stroke="#404040" stroke-width="1"/>
<text x="550.40" y="355.80" font-size="9.60" text-anchor="middle" textLength="18.60" lengthAdjust="spacingAndGlyphs" fill="#303030">1000</text>
<line x1="590.50" y1="344.90" x2="590.50" y2="346.90" stroke="#404040" stroke-width="1"/>
<text x="591.40" y="355.80" font-size="9.60" text-anchor="middle" textLength="14.00" lengthAdjust="spacingAndGlyphs" fill="#303030">950</text>
<line x1="631.50" y1="344.90" x2="631.50" y2="346.90" stroke="#404040" stroke-width="1"/>
<text x="632.40" y="355.80" font-size="9.60" text-anchor="middle" textLength="14.00" lengthAdjust="spacingAndGlyphs" fill="#303030">900</text>
<line x1="672.50" y1="344.90" x2="672.50" y2="346.90" stroke="#404040" stroke-width="1"/>
<text x="673.40" y="355.80" font-size="9.60" text-anchor="middle" textLength="14.00" lengthAdjust="spacingAndGlyphs" fill="#303030">850</text>
<text x="484.50" y="366.50" font-size="10" font-weight="bold" fill="#111" stroke="#111" stroke-width="0.3" textLength="90.70" lengthAdjust="spacingAndGlyphs">Wavenumber (cm<tspan font-size="6" dy="-3.5">-1</tspan><tspan dy="3.5">)</tspan></text>
<text x="378.20" y="323.80" font-size="9.80" font-weight="bold" textLength="84.00" lengthAdjust="spacingAndGlyphs" transform="rotate(-90 378.20 323.80)" fill="#111" stroke="#111" stroke-width="0.3">Absorbance (A.U.)</text>
<text x="396.00" y="209.00" font-size="10.50" font-weight="bold" fill="#111" stroke="#111" stroke-width="0.3">d</text>
<line x1="566.90" y1="206.70" x2="607.90" y2="206.70" stroke="#000" stroke-width="1.70" fill="none" stroke-linejoin="round" stroke-linecap="round"/>
<text x="611.60" y="209.30" font-size="10.00" font-weight="bold" textLength="33.60" lengthAdjust="spacingAndGlyphs" fill="#111" stroke="#111" stroke-width="0.3">Control</text>
<line x1="566.90" y1="219.50" x2="607.90" y2="219.50" stroke="#000" stroke-width="1.70" fill="none" stroke-dasharray="1.7 1.7"/>
<text x="611.60" y="222.50" font-size="10.00" font-weight="bold" textLength="55.50" lengthAdjust="spacingAndGlyphs" fill="#111" stroke="#111" stroke-width="0.3">1H post LLLT</text>
<line x1="566.90" y1="232.70" x2="607.90" y2="232.70" stroke="#000" stroke-width="1.70" fill="none" stroke-dasharray="12.7 5.3 1.7 5.3"/>
<text x="611.60" y="235.60" font-size="10.00" font-weight="bold" textLength="55.50" lengthAdjust="spacingAndGlyphs" fill="#111" stroke="#111" stroke-width="0.3">3H post LLLT</text>
<path d="M385.40,271.50 C386.10,272.72 387.95,276.80 389.60,278.80 C391.25,280.80 393.57,282.40 395.30,283.50 C397.03,284.60 398.43,285.72 400.00,285.40 C401.57,285.08 402.98,282.63 404.70,281.60 C406.42,280.57 408.27,279.35 410.30,279.20 C412.33,279.05 414.38,280.13 416.90,280.70 C419.42,281.27 422.88,282.13 425.40,282.60 C427.92,283.07 430.12,283.82 432.00,283.50 C433.88,283.18 435.28,282.27 436.70,280.70 C438.12,279.13 438.67,277.30 440.50,274.10 C442.33,270.90 445.08,265.60 447.70,261.50 C450.32,257.40 453.62,253.25 456.20,249.50 C458.78,245.75 461.55,241.65 463.20,239.00 C464.85,236.35 464.90,236.10 466.10,233.60 C467.30,231.10 468.97,227.22 470.40,224.00 C471.83,220.78 473.45,217.27 474.70,214.30 C475.95,211.33 476.83,208.22 477.90,206.20 C478.97,204.18 480.12,203.00 481.10,202.20 C482.08,201.40 482.53,201.08 483.80,201.40 C485.07,201.72 487.00,203.12 488.70,204.10 C490.40,205.08 492.22,206.23 494.00,207.30 C495.78,208.37 497.78,209.38 499.40,210.50 C501.02,211.62 502.47,212.68 503.70,214.00 C504.93,215.32 505.57,216.40 506.80,218.40 C508.03,220.40 509.48,223.40 511.10,226.00 C512.72,228.60 514.88,231.23 516.50,234.00 C518.12,236.77 518.85,237.75 520.80,242.60 C522.75,247.45 526.07,257.22 528.20,263.10 C530.33,268.98 531.82,273.20 533.60,277.90 C535.38,282.60 537.42,287.70 538.90,291.30 C540.38,294.90 541.43,297.43 542.50,299.50 C543.57,301.57 543.98,302.43 545.30,303.70 C546.62,304.97 548.53,306.32 550.40,307.10 C552.27,307.88 554.45,307.78 556.50,308.40 C558.55,309.02 560.65,310.73 562.70,310.80 C564.75,310.87 566.93,308.97 568.80,308.80 C570.67,308.63 572.37,308.95 573.90,309.80 C575.43,310.65 576.47,311.68 578.00,313.90 C579.53,316.12 581.40,320.22 583.10,323.10 C584.80,325.98 586.50,329.10 588.20,331.20 C589.90,333.30 591.43,334.85 593.30,335.70 C595.17,336.55 597.72,336.47 599.40,336.30 C601.08,336.13 601.60,335.42 603.40,334.70 C605.20,333.98 607.95,332.82 610.20,332.00 C612.45,331.18 614.67,329.65 616.90,329.80 C619.13,329.95 621.37,331.37 623.60,332.90 C625.83,334.43 628.07,337.70 630.30,339.00 C632.53,340.30 634.77,340.53 637.00,340.70 C639.23,340.87 641.45,340.40 643.70,340.00 C645.95,339.60 648.25,338.92 650.50,338.30 C652.75,337.68 655.18,337.20 657.20,336.30 C659.22,335.40 660.80,333.68 662.60,332.90 C664.40,332.12 666.33,331.78 668.00,331.60 C669.67,331.42 671.83,331.77 672.60,331.80" stroke="#000" stroke-width="1.70" fill="none" stroke-dasharray="1.7 1.7" clip-path="url(#cd)"/>
<path d="M385.40,304.80 C386.10,305.43 388.12,307.45 389.60,308.60 C391.08,309.75 392.72,310.77 394.30,311.70 C395.88,312.63 397.37,314.35 399.10,314.20 C400.83,314.05 402.52,312.15 404.70,310.80 C406.88,309.45 409.85,307.60 412.20,306.10 C414.55,304.60 416.60,303.22 418.80,301.80 C421.00,300.38 423.20,298.87 425.40,297.60 C427.60,296.33 430.12,295.45 432.00,294.20 C433.88,292.95 435.28,291.88 436.70,290.10 C438.12,288.32 439.25,285.85 440.50,283.50 C441.75,281.15 442.75,279.20 444.20,276.00 C445.65,272.80 447.20,267.42 449.20,264.30 C451.20,261.18 454.30,259.33 456.20,257.30 C458.10,255.27 459.13,253.83 460.60,252.10 C462.07,250.37 462.97,248.93 465.00,246.90 C467.03,244.87 470.93,242.85 472.80,239.90 C474.67,236.95 475.62,231.13 476.20,229.20" stroke="#000" stroke-width="1.70" fill="none" stroke-dasharray="12.7 5.3 1.7 5.3" clip-path="url(#cd)" stroke-dashoffset="1.70"/>
<path d="M476.20,229.20 C476.78,227.27 475.65,230.07 476.30,228.30 C476.95,226.53 479.12,221.12 480.10,218.60 C481.08,216.08 481.47,214.57 482.20,213.20 C482.93,211.83 483.70,210.75 484.50,210.40 C485.30,210.05 486.08,210.42 487.00,211.10 C487.92,211.78 488.92,213.25 490.00,214.50 C491.08,215.75 492.02,217.38 493.50,218.60 C494.98,219.82 496.95,221.20 498.90,221.80 C500.85,222.40 503.35,222.17 505.20,222.20" stroke="#000" stroke-width="1.70" fill="none" stroke-dasharray="12.7 5.3 1.7 5.3" clip-path="url(#cd)"/>
<path d="M505.20,222.20 C507.05,222.23 508.20,222.35 510.00,222.00 C511.80,221.65 514.12,220.28 516.00,220.10 C517.88,219.92 519.97,220.10 521.30,220.90 C522.63,221.70 522.73,222.53 524.00,224.90" stroke="#000" stroke-width="1.70" fill="none" stroke-dasharray="12.7 5.3 1.7 5.3" clip-path="url(#cd)"/>
<path d="M524.00,224.90 C525.27,227.27 527.67,231.58 528.90,235.10 C530.13,238.62 530.20,242.38 531.40,246.00 C532.60,249.62 534.77,253.32 536.10,256.80 C537.43,260.28 538.03,263.17 539.40,266.90 C540.77,270.63 543.03,275.70 544.30,279.20 C545.57,282.70 546.33,286.33 547.00,287.90" stroke="#000" stroke-width="1.70" fill="none" stroke-dasharray="12.7 5.3 1.7 5.3" clip-path="url(#cd)"/>
<path d="M547.00,287.90 C547.67,289.47 547.42,288.13 548.30,288.60 C549.18,289.07 550.95,290.48 552.30,290.70 C553.65,290.92 555.05,289.65 556.40,289.90 C557.75,290.15 558.92,291.08 560.40,292.20 C561.88,293.32 564.42,295.53 565.30,296.60" stroke="#000" stroke-width="1.70" fill="none" stroke-dasharray="12.7 5.3 1.7 5.3" clip-path="url(#cd)"/>
<path d="M565.30,296.60 C566.18,297.67 564.78,297.08 565.70,298.60 C566.62,300.12 569.27,303.67 570.80,305.70 C572.33,307.73 573.53,308.58 574.90,310.80 C576.27,313.02 577.63,316.28 579.00,319.00 C580.37,321.72 581.57,324.55 583.10,327.10 C584.63,329.65 586.50,332.65 588.20,334.30 C589.90,335.95 591.43,336.62 593.30,337.00 C595.17,337.38 597.27,336.90 599.40,336.60 C601.53,336.30 604.08,335.58 606.10,335.20 C608.12,334.82 609.70,334.52 611.50,334.30 C613.30,334.08 615.12,333.75 616.90,333.90 C618.68,334.05 620.42,334.58 622.20,335.20 C623.98,335.82 626.02,337.02 627.60,337.60 C629.18,338.18 629.90,338.53 631.70,338.70 C633.50,338.87 636.40,338.72 638.40,338.60 C640.40,338.48 641.68,338.38 643.70,338.00 C645.72,337.62 648.48,336.93 650.50,336.30 C652.52,335.67 654.05,335.08 655.80,334.20" stroke="#000" stroke-width="1.70" fill="none" stroke-dasharray="12.7 5.3 1.7 5.3" clip-path="url(#cd)"/>
<path d="M655.80,334.20 C657.55,333.32 659.08,332.00 661.00,331.00 C662.92,330.00 666.25,328.67 667.30,328.20" stroke="#000" stroke-width="1.70" fill="none" stroke-dasharray="12.7 5.3 1.7 5.3" clip-path="url(#cd)"/>
<path d="M385.40,295.50 C386.10,296.23 388.12,298.53 389.60,299.90 C391.08,301.27 392.72,302.88 394.30,303.70 C395.88,304.52 397.52,305.03 399.10,304.80 C400.68,304.57 402.08,303.25 403.80,302.30 C405.52,301.35 407.22,300.03 409.40,299.10 C411.58,298.17 414.38,297.42 416.90,296.70 C419.42,295.98 422.15,295.22 424.50,294.80 C426.85,294.38 429.13,294.60 431.00,294.20 C432.87,293.80 434.12,293.72 435.70,292.40 C437.28,291.08 438.50,289.33 440.50,286.30 C442.50,283.27 445.23,277.48 447.70,274.20 C450.17,270.92 452.75,269.37 455.30,266.60 C457.85,263.83 460.43,260.58 463.00,257.60 C465.57,254.62 468.35,252.10 470.70,248.70 C473.05,245.30 475.40,240.18 477.10,237.20 C478.80,234.22 479.75,232.17 480.90,230.80 C482.05,229.43 482.72,228.58 484.00,229.00 C485.28,229.42 486.98,231.82 488.60,233.30 C490.22,234.78 491.78,236.62 493.70,237.90 C495.62,239.18 497.97,239.63 500.10,241.00 C502.23,242.37 504.17,244.18 506.50,246.10 C508.83,248.02 511.83,250.57 514.10,252.50 C516.37,254.43 518.20,255.72 520.10,257.70 C522.00,259.68 523.70,261.48 525.50,264.40 C527.30,267.32 529.12,271.40 530.90,275.20 C532.68,279.00 534.68,283.65 536.20,287.20 C537.72,290.75 539.00,294.27 540.00,296.50 C541.00,298.73 541.15,298.90 542.20,300.60 C543.25,302.30 544.93,305.27 546.30,306.70 C547.67,308.13 548.87,308.78 550.40,309.20 C551.93,309.62 553.80,308.93 555.50,309.20 C557.20,309.47 558.90,310.02 560.60,310.80 C562.30,311.58 563.83,313.05 565.70,313.90 C567.57,314.75 570.10,314.88 571.80,315.90 C573.50,316.92 574.53,318.30 575.90,320.00 C577.27,321.70 578.47,324.07 580.00,326.10 C581.53,328.13 583.40,330.60 585.10,332.20 C586.80,333.80 588.50,334.85 590.20,335.70 C591.90,336.55 593.55,337.08 595.30,337.30 C597.05,337.52 598.90,337.35 600.70,337.00 C602.50,336.65 604.30,335.65 606.10,335.20 C607.90,334.75 609.70,334.52 611.50,334.30 C613.30,334.08 615.12,333.75 616.90,333.90 C618.68,334.05 620.42,334.58 622.20,335.20 C623.98,335.82 626.02,337.02 627.60,337.60 C629.18,338.18 629.90,338.53 631.70,338.70 C633.50,338.87 636.40,338.72 638.40,338.60 C640.40,338.48 641.68,338.38 643.70,338.00 C645.72,337.62 648.48,336.85 650.50,336.30 C652.52,335.75 654.23,335.27 655.80,334.70 C657.37,334.13 658.55,333.42 659.90,332.90 C661.25,332.38 662.57,331.88 663.90,331.60 C665.23,331.32 666.45,331.10 667.90,331.20 C669.35,331.30 671.82,332.03 672.60,332.20" stroke="#000" stroke-width="1.70" fill="none" stroke-linejoin="round" stroke-linecap="round" clip-path="url(#cd)"/>
<text x="465.60" y="206.30" font-size="9.00" font-weight="bold" fill="#111" stroke="#111" stroke-width="0.3">14</text>
<text x="522.80" y="219.40" font-size="9.00" font-weight="bold" fill="#111" stroke="#111" stroke-width="0.3">15</text>
<text x="558.50" y="288.40" font-size="9.00" font-weight="bold" fill="#111" stroke="#111" stroke-width="0.3">16</text>
<text x="578.00" y="307.60" font-size="9.00" font-weight="bold" fill="#111" stroke="#111" stroke-width="0.3">17</text>
</svg>
</body></html>
